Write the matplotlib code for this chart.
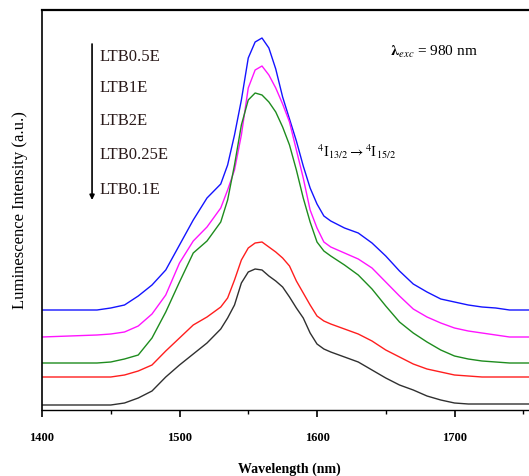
import numpy as np
import matplotlib.pyplot as plt

plt.rcParams['font.family'] = ['Liberation Serif', 'DejaVu Serif']
plt.rcParams['mathtext.fontset'] = 'stix'

# wavelength grid (nm)
wavelength = [1400, 1420, 1440, 1450, 1460, 1470, 1480, 1490, 1500, 1510, 1520, 1530,
              1535, 1540, 1545, 1550, 1555, 1560, 1565, 1570, 1575, 1580, 1585, 1590,
              1595, 1600, 1605, 1610,
              1620, 1630, 1640, 1650, 1660, 1670, 1680, 1690, 1700, 1710, 1720, 1730, 1740,
              1755]

# stacked intensities (a.u.)
ltb05 = [100, 100, 100, 102, 105, 114, 125, 140, 165, 190, 212, 226,
         245, 275, 310, 352, 368, 372, 362, 341, 313, 291, 269, 244, 222, 206, 194, 189,
         182, 177, 167, 154, 139, 126, 118, 111, 108, 105, 103, 102, 100,
         100]
ltb1 = [73, 74, 75, 76, 78, 84, 96, 115, 147, 169, 183, 202,
        220, 240, 275, 322, 340, 344, 335, 322, 306, 288, 260, 232, 200, 182, 168, 163,
        157, 151, 142, 128, 114, 101, 93, 87, 82, 79, 77, 75, 73,
        73]
ltb2 = [47, 47, 47, 48, 51, 55, 72, 98, 128, 157, 169, 188,
        210, 245, 285, 310, 317, 315, 308, 298, 283, 265, 240, 212, 188, 168, 159, 154,
        145, 135, 121, 104, 88, 77, 68, 60, 54, 51, 49, 48, 47,
        47]
ltb025 = [33, 33, 33, 33, 35, 39, 45, 59, 72, 85, 93, 103,
          112, 130, 150, 162, 167, 168, 163, 158, 152, 144, 129, 117, 105, 94, 89, 86,
          81, 76, 69, 60, 53, 46, 41, 38, 35, 34, 33, 33, 33,
          33]
ltb01 = [5, 5, 5, 5, 7, 12, 19, 33, 45, 56, 67, 81,
         92, 105, 127, 138, 141, 140, 134, 129, 123, 113, 102, 92, 77, 66, 61, 58,
         53, 48, 40, 32, 25, 20, 14, 10, 7, 6, 6, 6, 6,
         6]

labels = ['LTB0.5E', 'LTB1E', 'LTB2E', 'LTB0.25E', 'LTB0.1E']
series = [ltb05, ltb1, ltb2, ltb025, ltb01]
colors = ['#1414ff', '#ff14ff', '#1e8c1e', '#ff1e1e', '#303030']

fig = plt.figure(figsize=(5.29, 4.76), dpi=100)
ax = fig.add_axes([42/529, 66/476, 495/529, 400/476])

for ys, c in zip(series, colors):
    ax.plot(wavelength, ys, color=c, lw=1.0)

ax.set_xlim(1400, 1760)
ax.set_ylim(0, 400)
ax.spines['right'].set_visible(False)
ax.spines['top'].set_linewidth(1.6)
ax.spines['left'].set_linewidth(1.2)
ax.spines['bottom'].set_linewidth(1.0)
ax.set_yticks([])
ax.set_xticks([1400, 1500, 1600, 1700])
ax.set_xticks([1450, 1550, 1650, 1750], minor=True)
ax.tick_params(axis='x', which='major', length=5, width=1.2, labelsize=9, pad=11)
ax.tick_params(axis='x', which='minor', length=3, width=1.0)
for t in ax.get_xticklabels():
    t.set_fontweight('bold')

ax.set_xlabel('Wavelength (nm)', fontsize=10, fontweight='bold', labelpad=13)
ax.set_ylabel('Luminescence Intensity (a.u.)', fontsize=12, labelpad=10)

# sample list with arrow
label_y = [353, 322, 289, 255, 220]
for lab, y in zip(labels, label_y):
    ax.text(1442, y, lab, fontsize=12, va='center', ha='left', color='#2a1a1a')
ax.annotate('', xy=(1436.4, 210), xytext=(1436.4, 366),
            arrowprops=dict(arrowstyle='-|>', color='black', lw=1.2,
                            mutation_scale=7, shrinkA=0, shrinkB=0))

ax.text(1653, 358, r'$\mathbf{\lambda}_{exc}$ = 980 nm', fontsize=11,
        va='center', ha='left')
ax.text(1600, 258, r'$^4$I$_{13/2}$$\rightarrow$$^4$I$_{15/2}$', fontsize=10.5,
        va='center', ha='left')

fig.savefig('out.png', dpi=100)
